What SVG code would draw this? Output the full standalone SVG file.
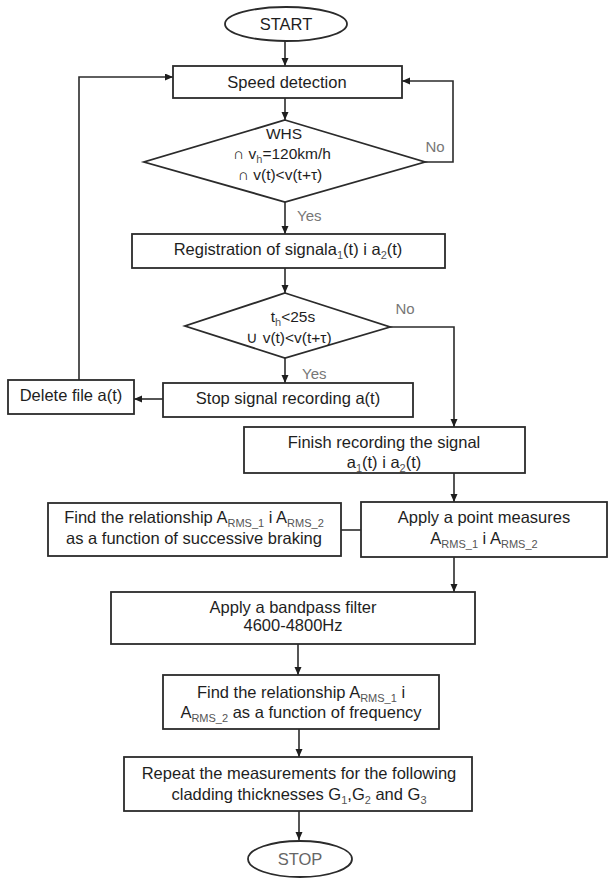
<svg xmlns="http://www.w3.org/2000/svg" width="610" height="879" viewBox="0 0 610 879">
<style>
.box{fill:#fff;stroke:#2b2b2b;stroke-width:1.8}
.ln{fill:none;stroke:#2b2b2b;stroke-width:1.6}
.t{font-family:"Liberation Sans",Arial,sans-serif;font-size:16.5px;fill:#1e1e1e;text-anchor:middle}
.d{font-size:15.5px}
.lbl{font-family:"Liberation Sans",Arial,sans-serif;font-size:15px;fill:#777}
.sub{font-size:11px;fill:#555}
</style>
<defs>
<marker id="ah" markerWidth="9" markerHeight="8" refX="8" refY="3.5" orient="auto" markerUnits="userSpaceOnUse">
<path d="M0,0 L8,3.5 L0,7 z" fill="#1e1e1e"/>
</marker>
</defs>
<rect width="610" height="879" fill="#fff"/>
<g id="connectors">
<line class="ln" x1="285" y1="41" x2="285" y2="66" marker-end="url(#ah)"/>
<line class="ln" x1="285" y1="98" x2="285" y2="120" marker-end="url(#ah)"/>
<polyline class="ln" points="425,162 453,162 453,81 402,81" marker-end="url(#ah)"/>
<line class="ln" x1="285" y1="202" x2="285" y2="234" marker-end="url(#ah)"/>
<line class="ln" x1="285" y1="268" x2="285" y2="293" marker-end="url(#ah)"/>
<line class="ln" x1="285" y1="358" x2="285" y2="383" marker-end="url(#ah)"/>
<polyline class="ln" points="390,327 454,327 454,427" marker-end="url(#ah)"/>
<line class="ln" x1="163" y1="399" x2="134" y2="399" marker-end="url(#ah)"/>
<polyline class="ln" points="79,380 79,77 173,77" marker-end="url(#ah)"/>
<line class="ln" x1="454" y1="473" x2="454" y2="502" marker-end="url(#ah)"/>
<line class="ln" x1="341" y1="530" x2="361" y2="530"/>
<line class="ln" x1="454" y1="557" x2="454" y2="592" marker-end="url(#ah)"/>
<line class="ln" x1="298" y1="644" x2="298" y2="675" marker-end="url(#ah)"/>
<line class="ln" x1="299" y1="729" x2="299" y2="757" marker-end="url(#ah)"/>
<line class="ln" x1="299" y1="811" x2="299" y2="840" marker-end="url(#ah)"/>
<text class="lbl" x="435" y="152" text-anchor="middle">No</text>
<text class="lbl" x="297" y="221">Yes</text>
<text class="lbl" x="405" y="314" text-anchor="middle">No</text>
<text class="lbl" x="302" y="379">Yes</text>
</g>
<g id="start">
<ellipse class="box" cx="286" cy="24" rx="61" ry="17"/>
<text class="t" x="286" y="30">START</text>
</g>
<g id="speed">
<rect class="box" x="173" y="66" width="229" height="32"/>
<text class="t" x="287" y="88">Speed detection</text>
</g>
<g id="cond1">
<polygon class="box" points="285,120 425,162 285,202 144,162"/>
<text class="t d" x="284" y="139">WHS</text>
<text class="t d" x="282" y="159">∩ v<tspan class="sub" dy="4">h</tspan><tspan dy="-4">=120km/h</tspan></text>
<text class="t d" x="280" y="180">∩ v(t)&lt;v(t+τ)</text>
</g>
<g id="register">
<rect class="box" x="132" y="234" width="313" height="34"/>
<text class="t" x="288" y="255">Registration of signala<tspan class="sub" dy="4">1</tspan><tspan dy="-4">(t) i a</tspan><tspan class="sub" dy="4">2</tspan><tspan dy="-4">(t)</tspan></text>
</g>
<g id="cond2">
<polygon class="box" points="285,293 390,327 285,358 185,326"/>
<text class="t d" x="293" y="322">t<tspan class="sub" dy="4">h</tspan><tspan dy="-4">&lt;25s</tspan></text>
<text class="t d" x="289" y="343">∪ v(t)&lt;v(t+τ)</text>
</g>
<g id="stop-rec">
<rect class="box" x="163" y="383" width="250" height="34"/>
<text class="t" x="288" y="404">Stop signal recording a(t)</text>
</g>
<g id="delete">
<rect class="box" x="8" y="380" width="126" height="34"/>
<text class="t" x="71" y="401">Delete file a(t)</text>
</g>
<g id="finish">
<rect class="box" x="244" y="427" width="281" height="46"/>
<text class="t" x="384" y="448">Finish recording the signal</text>
<text class="t" x="384" y="468">a<tspan class="sub" dy="4">1</tspan><tspan dy="-4">(t) i a</tspan><tspan class="sub" dy="4">2</tspan><tspan dy="-4">(t)</tspan></text>
</g>
<g id="find-braking">
<rect class="box" x="48" y="503" width="293" height="53"/>
<text class="t" x="194" y="523">Find the relationship A<tspan class="sub" dy="4">RMS_1</tspan><tspan dy="-4"> i A</tspan><tspan class="sub" dy="4">RMS_2</tspan></text>
<text class="t" x="194" y="544">as a function of successive braking</text>
</g>
<g id="apply-point">
<rect class="box" x="361" y="502" width="246" height="55"/>
<text class="t" x="484" y="523">Apply a point measures</text>
<text class="t" x="484" y="544">A<tspan class="sub" dy="4">RMS_1</tspan><tspan dy="-4"> i A</tspan><tspan class="sub" dy="4">RMS_2</tspan></text>
</g>
<g id="bandpass">
<rect class="box" x="111" y="592" width="364" height="52"/>
<text class="t" x="293" y="613">Apply a bandpass filter</text>
<text class="t" x="293" y="631">4600-4800Hz</text>
</g>
<g id="find-freq">
<rect class="box" x="163" y="675" width="276" height="54"/>
<text class="t" x="301" y="698">Find the relationship A<tspan class="sub" dy="4">RMS_1</tspan><tspan dy="-4"> i</tspan></text>
<text class="t" x="301" y="718">A<tspan class="sub" dy="4">RMS_2</tspan><tspan dy="-4"> as a function of frequency</tspan></text>
</g>
<g id="repeat">
<rect class="box" x="124" y="757" width="348" height="54"/>
<text class="t" x="299" y="779">Repeat the measurements for the following</text>
<text class="t" x="299" y="800">cladding thicknesses G<tspan class="sub" dy="4">1</tspan><tspan dy="-4">,G</tspan><tspan class="sub" dy="4">2</tspan><tspan dy="-4"> and G</tspan><tspan class="sub" dy="4">3</tspan></text>
</g>
<g id="stop">
<ellipse class="box" cx="300" cy="859" rx="52" ry="18"/>
<text class="t" x="300" y="865" style="fill:#666">STOP</text>
</g>
</svg>
